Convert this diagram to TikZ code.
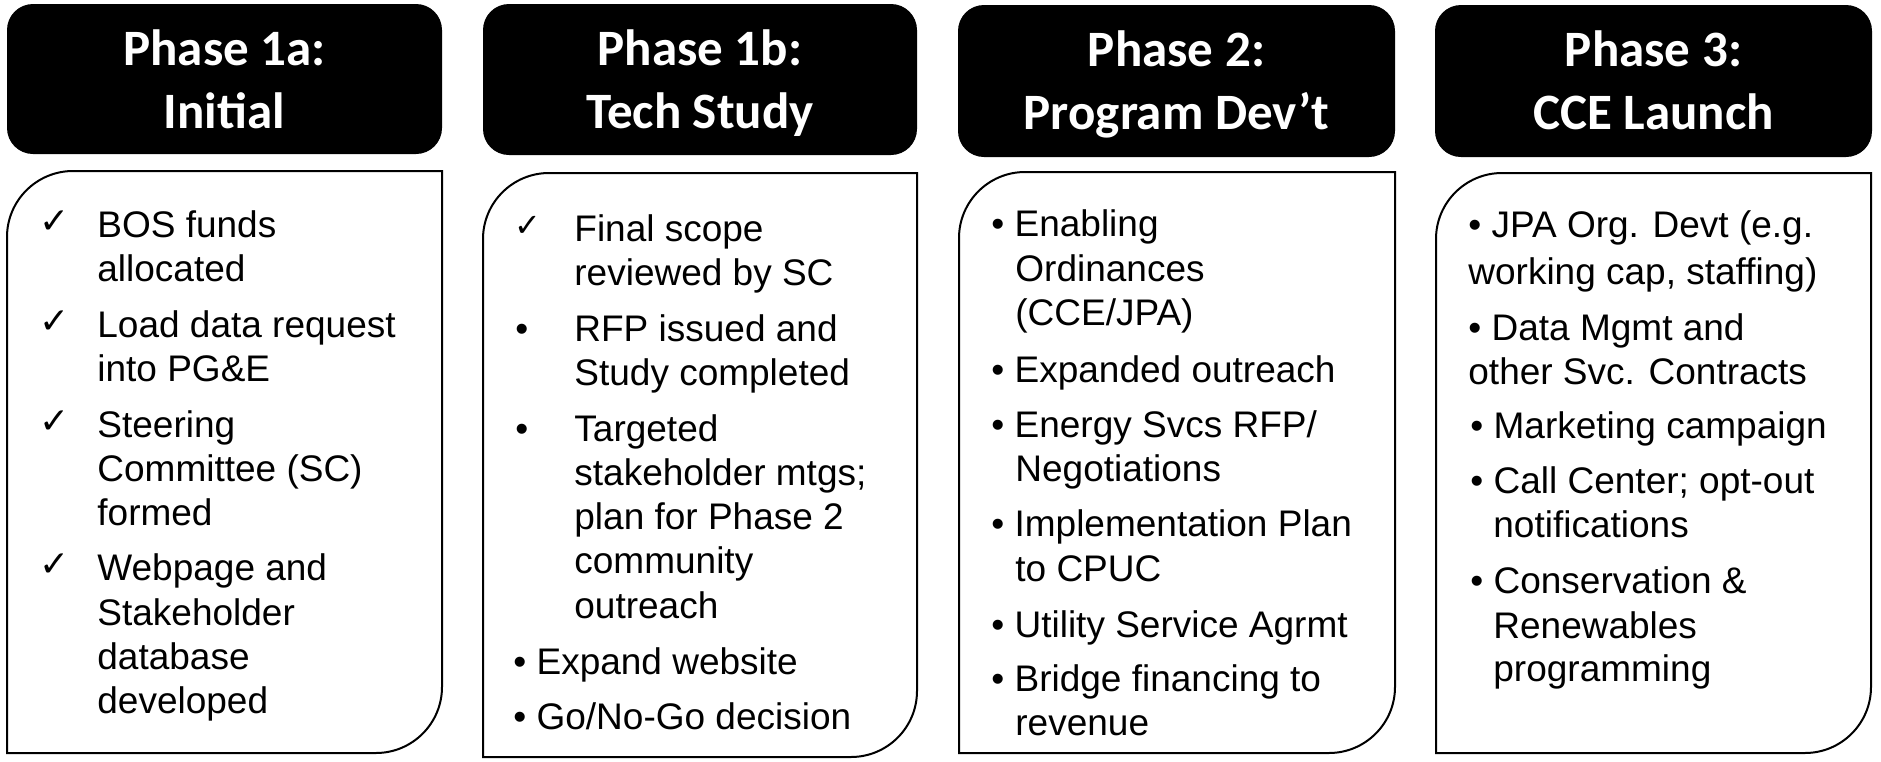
\documentclass[tikz,border=0pt]{standalone}
\usepackage{fontspec}
\setmainfont{Liberation Sans}
\newfontfamily\headfont{Carlito}
\newfontfamily\checkfont{DejaVu Sans}
\newcommand\bodyshape[4]{%
  \draw[bodybox] (#1,#4) -- (#1,#2+66)
    .. controls (#1,#2+29.6) and (#1+29.6,#2) .. (#1+66,#2)
    -- (#3,#2) -- (#3,#4-66)
    .. controls (#3,#4-29.6) and (#3-29.6,#4) .. (#3-66,#4) -- cycle;}
\begin{document}
\begin{tikzpicture}[x=0.5pt,y=-0.5pt,
  headbox/.style={fill=black, rounded corners=13pt},
  bodybox/.style={draw=black, line width=1pt, fill=white},
  headtxt/.style={text=white, font=\headfont\bfseries\fontsize{25.5}{30}\selectfont, anchor=base, inner sep=0pt},
  txt/.style={font=\fontsize{18.5}{22}\selectfont, anchor=base west, inner sep=0pt},
  chk/.style={font=\checkfont\bfseries\fontsize{18}{20}\selectfont, anchor=base west, inner sep=0pt},
  chks/.style={font=\checkfont\bfseries\fontsize{16}{18}\selectfont, anchor=base west, inner sep=0pt},
]
\useasboundingbox (0,0) rectangle (1881,761);

% headers
\fill[headbox] (7,4) rectangle (442,154);
\fill[headbox] (483,4) rectangle (917,155);
\fill[headbox] (958,5) rectangle (1395,157);
\fill[headbox] (1435,5) rectangle (1872,157);
\node[headtxt] (h1a) at (224.5,65) {Phase 1a:};
\node[headtxt] (h1b) at (224.5,128) {Initial};
\node[headtxt] (h2a) at (700,65) {Phase 1b:};
\node[headtxt] (h2b) at (700,128) {Tech Study};
\node[headtxt] (h3a) at (1176.5,66) {Phase 2:};
\node[headtxt] (h3b) at (1176.5,129) {Program Dev’t};
\node[headtxt] (h4a) at (1653.5,66) {Phase 3:};
\node[headtxt] (h4b) at (1653.5,129) {CCE Launch};

% body boxes
\bodyshape{7}{171}{442}{753}
\bodyshape{483}{173}{917}{757}
\bodyshape{959}{172}{1395}{753}
\bodyshape{1436}{173}{1871}{753}

% column 1
\node[chk] (a1c) at (39,233) {✓};
\node[txt] (a1) at (97,237) {BOS funds};
\node[txt] (a2) at (97,281) {allocated};
\node[chk] (a3c) at (39,333) {✓};
\node[txt] (a3) at (97,337) {Load data request};
\node[txt] (a4) at (97,381) {into PG\&E};
\node[chk] (a5c) at (39,433) {✓};
\node[txt] (a5) at (97,437) {Steering};
\node[txt] (a6) at (97,481) {Committee (SC)};
\node[txt] (a7) at (97,525) {formed};
\node[chk] (a8c) at (39,576) {✓};
\node[txt] (a8) at (97,580) {Webpage and};
\node[txt] (a9) at (97,625) {Stakeholder};
\node[txt] (a10) at (97,669) {database};
\node[txt] (a11) at (97,713) {developed};

% column 2
\node[chks] (b1c) at (514,236) {✓};
\node[txt] (b1) at (574,241) {Final scope};
\node[txt] (b2) at (574,285) {reviewed by SC};
\node[txt] (b3m) at (515,341) {•};
\node[txt] (b3) at (574,341) {RFP issued and};
\node[txt] (b4) at (574,385) {Study completed};
\node[txt] (b5m) at (515,441) {•};
\node[txt] (b5) at (574,441) {Targeted};
\node[txt] (b6) at (574,485) {stakeholder mtgs;};
\node[txt] (b7) at (574,529) {plan for Phase 2};
\node[txt] (b8) at (574,573) {community};
\node[txt] (b9) at (574,618) {outreach};
\node[txt] (b10) at (513,674) {• Expand website};
\node[txt] (b11) at (513,729) {• Go/No-Go decision};

% column 3
\node[txt] (c1) at (991,236) {• Enabling};
\node[txt] (c2) at (1015,281) {Ordinances};
\node[txt] (c3) at (1015,325) {(CCE/JPA)};
\node[txt] (c4) at (991,382) {• Expanded outreach};
\node[txt] (c5) at (991,437) {• Energy Svcs RFP/};
\node[txt] (c6) at (1015,481) {Negotiations};
\node[txt] (c7) at (991,536) {• Implementation Plan};
\node[txt] (c8) at (1015,581) {to CPUC};
\node[txt] (c9) at (991,637) {• Utility Service Agrmt};
\node[txt] (c10) at (991,691) {• Bridge financing to};
\node[txt] (c11) at (1015,735) {revenue};

% column 4
\node[txt] (d1) at (1468,237) {• JPA Org. Devt (e.g.};
\node[txt] (d2) at (1468,284) {working cap, staffing)};
\node[txt] (d3) at (1468,340) {• Data Mgmt and};
\node[txt] (d4) at (1468,384) {other Svc. Contracts};
\node[txt] (d5) at (1470,438) {• Marketing campaign};
\node[txt] (d6) at (1470,493) {• Call Center; opt-out};
\node[txt] (d7) at (1493,537) {notifications};
\node[txt] (d8) at (1470,593) {• Conservation \&};
\node[txt] (d9) at (1493,638) {Renewables};
\node[txt] (d10) at (1493,681) {programming};
\end{tikzpicture}
\end{document}
